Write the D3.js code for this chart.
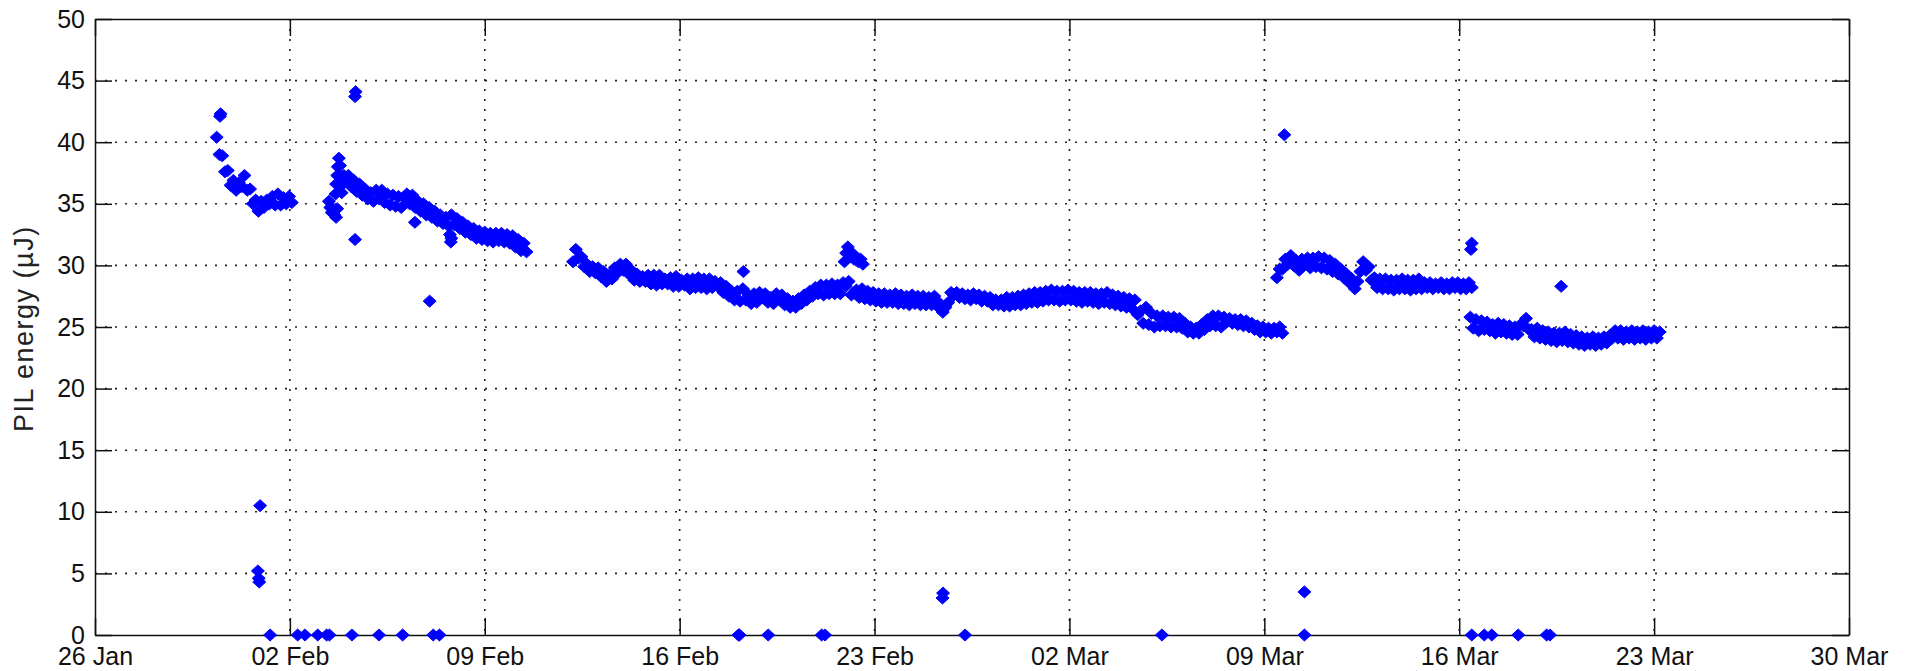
<!DOCTYPE html>
<html>
<head>
<meta charset="utf-8">
<script src="https://cdn.jsdelivr.net/npm/d3@7/dist/d3.min.js"></script>
<style>
  html, body { margin: 0; padding: 0; background: #fff; }
  svg { display: block; }
</style>
</head>
<body>
<svg id="ctner"></svg>
<script>
/* data: time is in days after 26 Jan, energy in uJ */
const startDate = Date.UTC(2015, 0, 26);
const sampleStep = 0.1; // days between logged samples inside a run

const xTickDays = [0, 7, 14, 21, 28, 35, 42, 49, 56, 63];
const xTickLabels = ["26 Jan", "02 Feb", "09 Feb", "16 Feb", "23 Feb", "02 Mar", "09 Mar", "16 Mar", "23 Mar", "30 Mar"];
const yTicks = [0, 5, 10, 15, 20, 25, 30, 35, 40, 45, 50];

const run1Start = 4.37;
const run1Energy = [40.4, 39.0, 38.9, 37.6, 37.7, 36.5, 36.9, 36.1, 36.7, 36.4, 37.3, 36.1, 36.2, 35.0,
  35.3, 34.4, 35.2, 34.7, 35.3, 35.0, 35.6, 34.9, 35.8, 34.9, 35.5, 35.0, 35.6, 35.1];

const run2Start = 9.0;
const run2Energy = [36.8, 37.3, 36.4, 36.9, 36.0, 36.6, 35.7, 36.2, 35.4, 35.9, 35.2, 36.1, 35.4, 36.1,
  35.1, 35.8, 34.9, 35.7, 34.8, 35.6, 34.7, 35.5, 35.8, 35.0, 35.7, 34.7, 35.2, 34.4, 35.0, 34.1,
  34.7, 33.9, 34.4, 33.6, 34.1, 33.4, 33.9, 33.2, 34.1, 33.3, 33.8, 33.0, 33.5, 32.7, 33.2, 32.5,
  33.0, 32.2, 32.8, 32.1, 32.7, 32.0, 32.6, 31.9, 32.6, 32.0, 32.6, 31.9, 32.5, 31.8, 32.4, 31.5,
  32.1, 31.2, 31.8, 31.1];

const run3Start = 17.17;
const run3Energy = [30.3, 31.3, 30.6, 30.7, 29.9, 30.1, 29.5, 29.9, 29.4, 29.8, 29.1, 29.5, 28.7, 29.2,
  28.9, 29.8, 29.4, 30.1, 29.6, 30.1, 29.3, 29.6, 28.8, 29.3, 28.7, 29.1, 28.7, 29.2, 28.5, 29.2,
  28.4, 29.2, 28.5, 28.9, 28.5, 29.0, 28.3, 29.1, 28.3, 28.8, 28.4, 28.9, 28.1, 28.9, 28.2, 29.0,
  28.2, 28.9, 28.1, 28.9, 28.2, 28.7, 28.3, 28.6, 27.8, 28.3, 27.5, 27.9, 27.2, 27.9, 27.1, 28.1,
  27.2, 27.6, 26.9, 27.7, 27.0, 27.8, 27.4, 27.7, 27.0, 27.4, 26.9, 27.7, 27.3, 27.6, 26.8, 27.3,
  26.6, 27.1, 26.6, 27.3, 26.9, 27.6, 27.2, 27.9, 27.5, 28.2, 27.7, 28.4, 27.6, 28.4, 27.7, 28.5,
  27.7, 28.4, 27.7, 28.6, 28.3, 28.7, 27.6];

const run4Start = 27.35;
const run4Energy = [28.0, 27.4, 28.1, 27.3, 27.9, 27.2, 27.8, 27.1, 27.7, 27.0,
  27.7, 27.0, 27.6, 27.0, 27.7, 26.9, 27.6, 26.9, 27.5, 26.8,
  27.6, 26.9, 27.5, 26.8, 27.5, 26.8, 27.4, 26.8, 27.5, 26.7,
  26.9, 26.2, 26.6, 27.0, 27.8, 27.6, 27.8, 27.4, 27.7, 27.3,
  27.6, 27.2, 27.7, 27.3, 27.6, 27.1, 27.5, 27.1, 27.4, 26.8,
  27.2, 26.8, 27.2, 26.7, 27.4, 26.7, 27.4, 26.8, 27.5, 26.8,
  27.6, 26.9, 27.7, 27.0, 27.8, 27.0, 27.8, 27.1, 27.9, 27.2,
  28.0, 27.2, 27.9, 27.1, 27.9, 27.2, 28.0, 27.2, 27.9, 27.1,
  27.8, 27.0, 27.8, 27.1, 27.8, 27.0, 27.7, 26.9, 27.7, 27.0,
  27.8, 26.9, 27.6, 26.8, 27.5, 26.7, 27.4, 26.6, 27.3, 26.5,
  27.2, 26.0, 26.3, 25.3, 26.6, 25.2, 26.1, 25.0, 25.9, 25.1,
  25.9, 25.1, 25.8, 25.0, 25.8, 25.0, 25.7, 24.9, 25.3, 24.6,
  25.0, 24.5, 24.9, 24.5, 25.2, 24.8, 25.6, 25.1, 25.9, 25.1,
  25.9, 25.0, 25.8, 25.4, 25.7, 25.3, 25.6, 25.2, 25.6, 25.1,
  25.5, 25.0, 25.3, 24.8, 25.1, 24.6, 25.0, 24.6, 24.9, 24.5,
  24.9, 24.6, 25.0, 24.5];

const run5Start = 42.45;
const run5Energy = [29.0, 29.7, 29.7, 30.5, 30.1, 30.8, 30.0, 30.4, 29.6, 30.5,
  30.1, 30.6, 29.8, 30.6, 29.9, 30.7, 29.8, 30.6, 29.7, 30.4,
  29.5, 30.1, 29.3, 29.7, 29.0, 29.3, 28.6, 28.9, 28.1, 28.7,
  29.5, 30.3, 29.6, 29.9, 28.8, 29.0, 28.2, 28.9, 28.1, 28.9,
  28.1, 28.8, 28.0, 28.8, 28.1, 28.9, 28.1, 28.8, 28.0, 28.8,
  28.1, 28.9, 28.1, 28.6, 28.2, 28.6, 28.1, 28.5, 28.2, 28.6,
  28.1, 28.5, 28.1, 28.6, 28.2, 28.6, 28.1, 28.5, 28.1, 28.6,
  28.2];

const run6Start = 49.4;
const run6Energy = [25.8, 24.9, 25.6, 24.7, 25.5, 24.8, 25.4, 24.7, 25.2, 24.5,
  25.3, 24.6, 25.2, 24.5, 25.1, 24.4, 25.0, 24.4, 25.2, 25.1,
  25.7, 24.8, 24.8, 24.2, 24.9, 24.1, 24.7, 24.0, 24.6, 23.9,
  24.5, 23.8, 24.5, 23.9, 24.6, 23.8, 24.4, 23.7, 24.3, 23.6,
  24.2, 23.5, 24.1, 23.6, 24.2, 23.5, 24.1, 23.6, 24.2, 23.7,
  24.3, 24.1, 24.7, 24.1, 24.7, 24.0, 24.6, 24.1, 24.7, 24.0,
  24.6, 24.1, 24.7, 24.0, 24.6, 24.1, 24.7, 24.1, 24.6];

// irregular bursts and stray readings: [day, energy]
const burstPoints = [[8.40, 35.2], [8.45, 34.7], [8.50, 34.3], [8.55, 34.6], [8.60, 34.1], [8.66, 33.9],
  [8.70, 34.6], [8.64, 35.8], [8.66, 36.6], [8.70, 37.3], [8.72, 38.0], [8.76, 38.7], [8.80, 38.1],
  [8.78, 37.3], [8.82, 36.5], [8.86, 35.9], [8.90, 36.6], [8.94, 37.3], [8.98, 37.0],
  [26.92, 30.3], [26.98, 31.0], [27.04, 31.5], [27.10, 31.2], [27.18, 30.8], [27.26, 30.5],
  [27.34, 30.7], [27.42, 30.3], [27.50, 30.5], [27.58, 30.1]];
const strayPoints = [[4.49, 42.1], [4.51, 42.3], [5.93, 10.5], [5.85, 5.2], [5.88, 4.6], [5.90, 4.3],
  [9.34, 43.7], [9.36, 44.1], [9.34, 32.1], [11.49, 33.5], [12.02, 27.1], [12.75, 32.5], [12.78, 31.9],
  [12.80, 32.2], [23.29, 29.5], [30.44, 3.0], [30.46, 3.4], [42.72, 40.6], [43.44, 3.5],
  [49.42, 31.3], [49.45, 31.8], [52.66, 28.3]];
const zeroDays = [6.29, 7.28, 7.54, 8.00, 8.32, 8.42, 9.23, 10.20, 11.05, 12.15, 12.37, 23.11, 23.15,
  24.18, 26.10, 26.22, 31.25, 38.32, 43.44, 49.45, 49.90, 50.17, 51.12, 52.14, 52.26];

main();

function main() {
  const width = 1908;
  const height = 671;
  const svg = d3.select("#ctner").attr("width", width).attr("height", height);
  renderChart(svg, width, height, collectPoints());
}

function dayToDate(day) {
  return new Date(startDate + day * 864e5);
}

function collectPoints() {
  const runs = [
    [run1Start, run1Energy], [run2Start, run2Energy], [run3Start, run3Energy],
    [run4Start, run4Energy], [run5Start, run5Energy], [run6Start, run6Energy],
  ];
  const band = runs.flatMap(([start, values]) =>
    values.map((v, i) => ({ date: dayToDate(start + i * sampleStep), value: v })));
  const extra = burstPoints.concat(strayPoints)
    .map(([d, v]) => ({ date: dayToDate(d), value: v }));
  const zeros = zeroDays.map((d) => ({ date: dayToDate(d), value: 0 }));
  return band.concat(extra, zeros);
}

function renderChart(root, width, height, data) {
  /* layout information */
  const margin = { top: 19, left: 95, bottom: 36, right: 59 };
  const w = width - margin.left - margin.right;
  const h = height - margin.top - margin.bottom;
  const tickLen = 17;
  const font = "'Liberation Sans', Arial, Helvetica, sans-serif";

  const g = root.append("g").attr("transform", `translate(${margin.left}, ${margin.top})`);

  /* scales */
  const x = d3.scaleUtc().domain([dayToDate(0), dayToDate(63)]).range([0, w]);
  const y = d3.scaleLinear().domain([0, 50]).range([h, 0]);
  const xTicks = xTickDays.map(dayToDate);

  /* dotted grid */
  const grid = g.append("g").attr("class", "grid")
    .attr("stroke", "#222").attr("stroke-width", 1.6).attr("stroke-dasharray", "2 8");
  grid.selectAll(".gy").data(yTicks.slice(1, -1)).join("line")
    .attr("x1", 0).attr("x2", w).attr("y1", (d) => y(d)).attr("y2", (d) => y(d));
  grid.selectAll(".gx").data(xTicks.slice(1, -1)).join("line")
    .attr("y1", 0).attr("y2", h).attr("x1", (d) => x(d)).attr("x2", (d) => x(d));

  /* axes, ticks pointing inwards on all four sides */
  const xBottom = g.append("g").attr("transform", `translate(0, ${h})`)
    .call(d3.axisBottom(x).tickValues(xTicks).tickFormat((d, i) => xTickLabels[i])
      .tickSizeInner(-tickLen).tickSizeOuter(0).tickPadding(12));
  const yLeft = g.append("g")
    .call(d3.axisLeft(y).tickValues(yTicks).tickFormat(d3.format("d"))
      .tickSizeInner(-tickLen).tickSizeOuter(0).tickPadding(10));
  const xTop = g.append("g")
    .call(d3.axisTop(x).tickValues(xTicks).tickFormat("").tickSizeInner(-tickLen).tickSizeOuter(0));
  const yRight = g.append("g").attr("transform", `translate(${w}, 0)`)
    .call(d3.axisRight(y).tickValues(yTicks).tickFormat("").tickSizeInner(-tickLen).tickSizeOuter(0));

  [xBottom, yLeft, xTop, yRight].forEach((ax) => {
    ax.selectAll(".domain, .tick line").attr("stroke", "#111").attr("stroke-width", 1.5);
    ax.selectAll("text").attr("fill", "#111").style("font", `25px ${font}`);
  });

  root.append("text")
    .attr("transform", `translate(33, 432) rotate(-90)`)
    .attr("fill", "#222")
    .style("font", `27px ${font}`)
    .style("letter-spacing", "1.5px")
    .text("PIL energy (\u00b5J)");

  /* diamond markers */
  g.append("g").attr("fill", "#0000ff").attr("stroke", "#0000ff").attr("stroke-width", 1)
    .selectAll("path").data(data).join("path")
    .attr("transform", (d) => `translate(${x(d.date)}, ${y(d.value)})`)
    .attr("d", "M0,-6L6.5,0L0,6L-6.5,0Z");
}
</script>
</body>
</html>
